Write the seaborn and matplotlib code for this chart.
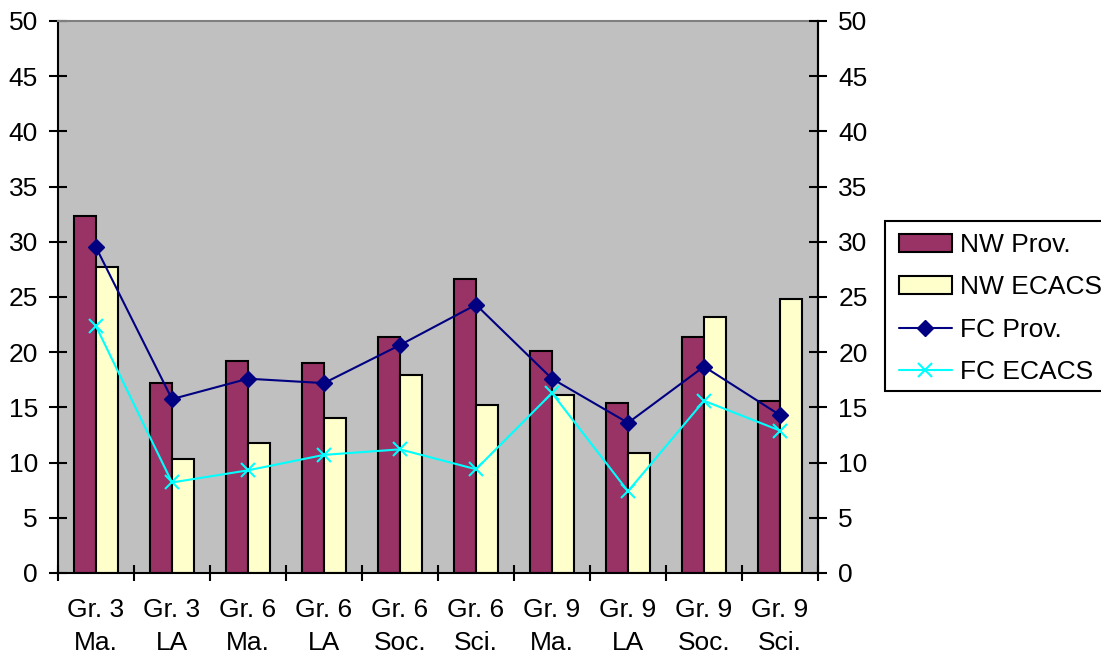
import numpy as np
import pandas as pd
import matplotlib
matplotlib.use("Agg")
import matplotlib.pyplot as plt
from matplotlib.patches import Rectangle, Patch
from matplotlib.lines import Line2D
import seaborn as sns

# Categories and series values
categories = ["Gr. 3\nMa.", "Gr. 3\nLA", "Gr. 6\nMa.", "Gr. 6\nLA", "Gr. 6\nSoc.",
              "Gr. 6\nSci.", "Gr. 9\nMa.", "Gr. 9\nLA", "Gr. 9\nSoc.", "Gr. 9\nSci."]
nw_prov = [32.3, 17.2, 19.2, 19.05, 21.4, 26.6, 20.1, 15.4, 21.4, 15.6]
nw_ecacs = [27.7, 10.3, 11.8, 14.0, 17.95, 15.25, 16.15, 10.9, 23.2, 24.8]
fc_prov = [29.5, 15.75, 17.6, 17.2, 20.65, 24.3, 17.6, 13.6, 18.7, 14.3]
fc_ecacs = [22.35, 8.2, 9.3, 10.7, 11.2, 9.4, 16.3, 7.4, 15.6, 12.9]
y_ticks = [0, 5, 10, 15, 20, 25, 30, 35, 40, 45, 50]

bar_names = ["NW Prov.", "NW ECACS"]
line_names = ["FC Prov.", "FC ECACS"]

sns.set_style("white")
plt.rcParams["font.family"] = ["Liberation Sans", "DejaVu Sans"]
plt.rcParams["text.color"] = "black"
plt.rcParams["xtick.color"] = "black"
plt.rcParams["ytick.color"] = "black"

FS = 19

bar_df = pd.DataFrame({
    "category": categories * 2,
    "value": nw_prov + nw_ecacs,
    "series": [bar_names[0]] * len(categories) + [bar_names[1]] * len(categories),
})

fig = plt.figure(figsize=(11.01, 6.56), dpi=100)
ax = fig.add_axes([58 / 1101, 83 / 656, 760 / 1101, 552 / 656])
ax.set_facecolor("#C0C0C0")

bar_colors = ["#993366", "#FFFFCC"]
sns.barplot(data=bar_df, x="category", y="value", hue="series",
            palette=bar_colors, saturation=1, edgecolor="black", linewidth=1.5,
            width=0.58, gap=0, ax=ax, legend=False, zorder=2)

xpos = np.arange(len(categories))
ax.plot(xpos, fc_prov, color="#000080", lw=1.5, marker="D", ms=8.5,
        markerfacecolor="#000080", markeredgecolor="#000080", zorder=4)
ax.plot(xpos, fc_ecacs, color="#00FFFF", lw=1.5, marker="x", ms=10,
        mew=1.5, zorder=4)

ax.set_xlim(-0.5, len(categories) - 0.5)
ax.set_ylim(0, 50)
ax.set_yticks(y_ticks)
ax.set_xlabel("")
ax.set_ylabel("")

# category boundaries carry the ticks, centres carry the labels
ax.set_xticks(np.arange(-0.5, len(categories), 1.0))
ax.set_xticklabels([])
ax.set_xticks(xpos, minor=True)
ax.set_xticklabels(categories, minor=True, fontsize=FS, linespacing=1.45,
                   color="black")
ax.tick_params(axis="x", which="major", direction="inout", length=11, width=1.5,
               color="black", bottom=True)
ax.tick_params(axis="x", which="minor", length=0, pad=18, bottom=True)
ax.tick_params(axis="y", direction="inout", length=13, width=1.5, pad=8,
               labelsize=FS, left=True, colors="black")

for side in ["left", "bottom", "right"]:
    ax.spines[side].set_color("black")
    ax.spines[side].set_linewidth(1.5)
ax.spines["top"].set_color("#808080")
ax.spines["top"].set_linewidth(1.5)

ax2 = ax.twinx()
ax2.set_ylim(0, 50)
ax2.set_yticks(y_ticks)
ax2.tick_params(axis="y", direction="inout", length=13, width=1.5, pad=8,
                labelsize=FS, right=True, colors="black")
for side in ["left", "bottom", "right", "top"]:
    ax2.spines[side].set_visible(False)
ax2.spines["right"].set_visible(True)
ax2.spines["right"].set_color("black")
ax2.spines["right"].set_linewidth(1.5)

# legend frame runs off the right edge
fig.patches.append(Rectangle((885 / 1101, (656 - 391) / 656), 0.2, 170 / 656,
                             transform=fig.transFigure, facecolor="white",
                             edgecolor="black", lw=1.5, zorder=0))
handles = [
    Patch(facecolor=bar_colors[0], edgecolor="black", lw=1.5, label=bar_names[0]),
    Patch(facecolor=bar_colors[1], edgecolor="black", lw=1.5, label=bar_names[1]),
    Line2D([], [], color="#000080", lw=1.5, marker="D", ms=8.5, label=line_names[0]),
    Line2D([], [], color="#00FFFF", lw=1.5, marker="x", ms=10, mew=1.5, label=line_names[1]),
]
fig.legend(handles=handles, loc="upper left",
           bbox_to_anchor=(899 / 1101, 1 - 233 / 656), frameon=False,
           fontsize=FS, handlelength=2.0, handleheight=0.65,
           handletextpad=0.3, labelspacing=0.70, borderpad=0, borderaxespad=0)

fig.savefig("out.png", dpi=100)
